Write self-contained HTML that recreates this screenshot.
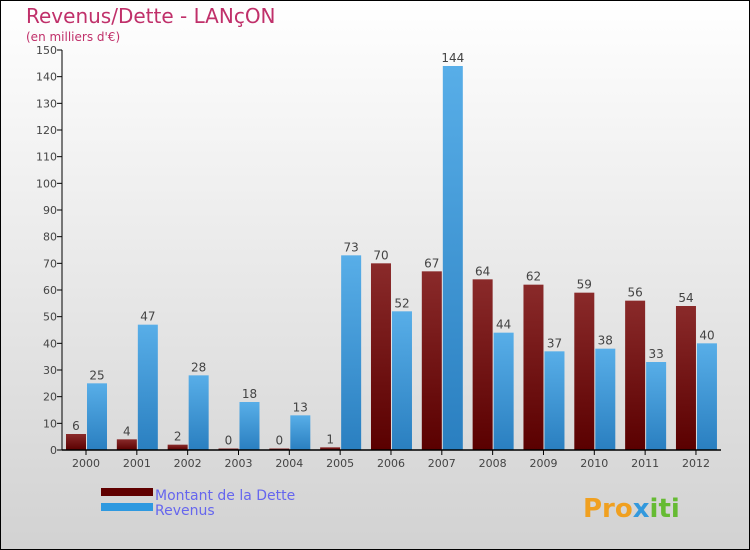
<!DOCTYPE html>
<html><head><meta charset="utf-8"><style>
body{margin:0}
#c{position:relative;width:748px;height:548px;border:1px solid #000;background:linear-gradient(#ffffff,#d2d2d2);overflow:hidden;font-family:"DejaVu Sans","Liberation Sans",sans-serif}
</style></head><body>
<div id="c">
<svg id="s" width="748" height="548" xmlns="http://www.w3.org/2000/svg">
<defs>
<linearGradient id="gd" x1="0" y1="0" x2="0" y2="1"><stop offset="0" stop-color="#8a2a2a"/><stop offset="1" stop-color="#5a0000"/></linearGradient>
<linearGradient id="gr" x1="0" y1="0" x2="0" y2="1"><stop offset="0" stop-color="#58aee8"/><stop offset="1" stop-color="#2a7fc0"/></linearGradient>
</defs>
<text x="25" y="22" font-size="20" fill="#c0306a">Revenus/Dette - LANçON</text>
<text x="25" y="40" font-size="12" fill="#c0306a">(en milliers d'€)</text>
<g id="g"></g>
<rect x="100" y="487" width="52" height="8" fill="#600000"/>
<rect x="100" y="502" width="52" height="8" fill="#2e99e0"/>
<text x="154" y="499" font-size="14" fill="#6666ee">Montant de la Dette</text>
<text x="154" y="514" font-size="14" fill="#6666ee">Revenus</text>
<text x="582" y="516" font-size="26" font-weight="bold" fill="#f0a020">Pro<tspan fill="#3399dd">x</tspan><tspan fill="#66bb33">iti</tspan></text>
</svg>
</div>
<script>
const years=["2000","2001","2002","2003","2004","2005","2006","2007","2008","2009","2010","2011","2012"];
const dette=[6,4,2,0,0,1,70,67,64,62,59,56,54];
const revenus=[25,47,28,18,13,73,52,144,44,37,38,33,40];
const yTicks=[0,10,20,30,40,50,60,70,80,90,100,110,120,130,140,150];
const NS="http://www.w3.org/2000/svg";
const g=document.getElementById('g');
const y=v=>449-v*400/150;
const xc=i=>85+i*50.83;
function mk(t,a,txt){const e=document.createElementNS(NS,t);for(const k in a)e.setAttribute(k,a[k]);if(txt!==undefined)e.textContent=txt;g.appendChild(e);return e;}
yTicks.forEach(v=>{
 const l=mk('line',{x1:56,x2:61,y1:y(v),y2:y(v),stroke:'#000'});
 
 
 const t=mk('text',{x:56,y:y(v)+4,'font-size':11,'text-anchor':'end',fill:'#444'},v);
 
 
});
years.forEach((yr,i)=>{
 const c=xc(i);
 const hd=Math.max(dette[i]*400/150,1.5);
 const b1=mk('rect',{x:c-20,y:449-hd,width:20,height:hd,fill:'url(#gd)'});
 
 
 const b2=mk('rect',{x:c+1,y:y(revenus[i]),width:20,height:revenus[i]*400/150,fill:'url(#gr)'});
 
 
 const t1=mk('text',{x:c-10,y:449-hd-4,'font-size':12,'text-anchor':'middle',fill:'#444'},dette[i]);
 
 
 const t2=mk('text',{x:c+11,y:y(revenus[i])-4,'font-size':12,'text-anchor':'middle',fill:'#444'},revenus[i]);
 
 
 const tk=mk('line',{x1:c,x2:c,y1:449,y2:454,stroke:'#000'});
 
 
 const xl=mk('text',{x:c,y:466,'font-size':11,'text-anchor':'middle',fill:'#444'},yr);
 
 
});
const ya=mk('line',{x1:61,x2:61,y1:y(150),y2:449,stroke:'#000'});


const xa=mk('line',{x1:61,x2:720,y1:449,y2:449,stroke:'#000','stroke-width':1.5});


</script>
</body></html>
